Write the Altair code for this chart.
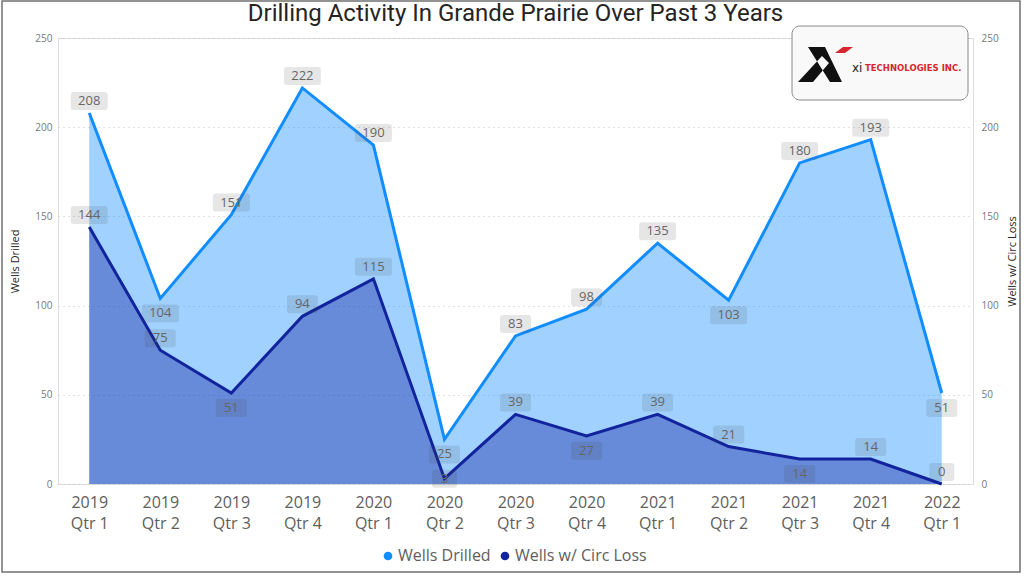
import altair as alt
import pandas as pd

# ---------------- data ----------------
quarters = ["2019 Qtr 1", "2019 Qtr 2", "2019 Qtr 3", "2019 Qtr 4",
            "2020 Qtr 1", "2020 Qtr 2", "2020 Qtr 3", "2020 Qtr 4",
            "2021 Qtr 1", "2021 Qtr 2", "2021 Qtr 3", "2021 Qtr 4",
            "2022 Qtr 1"]
wells_drilled = [208, 104, 151, 222, 190, 25, 83, 98, 135, 103, 180, 193, 51]
wells_circ_loss = [144, 75, 51, 94, 115, 3, 39, 27, 39, 21, 14, 14, 0]
y_ticks = [0, 50, 100, 150, 200, 250]
series_names = ["Wells Drilled", "Wells w/ Circ Loss"]

# data-label placement (as in the reference)
drilled_label_place = ["above", "below", "above", "above", "above", "below", "above",
                       "above", "above", "below", "above", "above", "below"]
circ_label_place = ["above", "above", "below", "above", "above", "center", "above",
                    "below", "above", "above", "below", "above", "above"]

# ---------------- styles ----------------
COLORS = ["#118DFF", "#12239E"]
FONT = "Open Sans"

rows = []
for i, q in enumerate(quarters):
    rows.append(dict(quarter=q, series=series_names[0], value=wells_drilled[i], place=drilled_label_place[i]))
    rows.append(dict(quarter=q, series=series_names[1], value=wells_circ_loss[i], place=circ_label_place[i]))
df = pd.DataFrame(rows)


def box_path(hw, hh=9, r=3):
    return (f"M{-hw + r},{-hh}H{hw - r}Q{hw},{-hh} {hw},{-hh + r}V{hh - r}"
            f"Q{hw},{hh} {hw - r},{hh}H{-hw + r}Q{-hw},{hh} {-hw},{hh - r}"
            f"V{-hh + r}Q{-hw},{-hh} {-hw + r},{-hh}Z")


box_expr = ("datum.value >= 100 ? '%s' : (datum.value >= 10 ? '%s' : '%s')"
            % (box_path(18.5), box_path(15.5), box_path(12.5)))

x_enc = alt.X(
    "quarter:O", sort=quarters,
    scale=alt.Scale(type="point", padding=0.44),
    axis=alt.Axis(title=None, labelAngle=0, ticks=False, domain=False, grid=False,
                  labelExpr="[slice(datum.label, 0, 4), slice(datum.label, 5)]",
                  labelFontSize=16, labelColor="#605E5C", labelFont=FONT,
                  labelPadding=10, labelLineHeight=21),
)

y_scale = alt.Scale(domain=[0, 250], nice=False)
left_axis = alt.Axis(title="Wells Drilled", values=y_ticks, orient="left",
                     grid=True, gridDash=[1, 4], gridColor="#c4c4c4",
                     ticks=False, domain=False,
                     labelFontSize=10, labelColor="#777777", labelFont=FONT, labelPadding=6,
                     titleFontSize=11, titleColor="#252423", titleFont=FONT,
                     titleFontWeight="normal", titlePadding=14)
right_axis = alt.Axis(title="Wells w/ Circ Loss", values=y_ticks, orient="right",
                      grid=False, ticks=False, domain=False,
                      labelFontSize=10, labelColor="#777777", labelFont=FONT, labelPadding=8,
                      titleFontSize=11, titleColor="#252423", titleFont=FONT,
                      titleFontWeight="normal", titleAngle=270, titlePadding=19)

color_enc = alt.Color(
    "series:N",
    scale=alt.Scale(domain=series_names, range=COLORS),
    legend=alt.Legend(title=None, orient="none", direction="horizontal",
                      legendX=322, legendY=510,
                      symbolType="circle", symbolSize=75, symbolOpacity=1,
                      symbolStrokeWidth=0,
                      labelFontSize=16, labelColor="#605E5C", labelFont=FONT,
                      columnPadding=6, labelOffset=2),
)

# ---------------- group A: Wells Drilled (left axis) ----------------
base_a = alt.Chart(df).transform_filter(alt.datum.series == series_names[0])
y_a = alt.Y("value:Q", scale=y_scale, axis=left_axis)
area_a = base_a.mark_area(fillOpacity=0.4).encode(x=x_enc, y=y_a, color=color_enc)
line_a = base_a.mark_line(strokeWidth=3).encode(x=x_enc, y=y_a, color=color_enc)
group_a = alt.layer(area_a, line_a)

# ---------------- group B: Circ Loss (right axis) + labels ----------------
base_b = alt.Chart(df).transform_filter(alt.datum.series == series_names[1])
y_b = alt.Y("value:Q", scale=y_scale, axis=right_axis)
area_b = base_b.mark_area(fillOpacity=0.4).encode(x=x_enc, y=y_b, color=color_enc)
line_b = base_b.mark_line(strokeWidth=3).encode(x=x_enc, y=y_b, color=color_enc)

label_layers = []
for place, off in [("above", -12), ("below", 15), ("center", 0)]:
    lb = alt.Chart(df).transform_filter(alt.datum.place == place)
    boxes = lb.transform_calculate(box=box_expr).mark_point(
        filled=True, size=4, color="#3a3a3a", opacity=0.13, strokeWidth=0, yOffset=off
    ).encode(x=x_enc, y=y_b, shape=alt.Shape("box:N", scale=None))
    texts = lb.mark_text(fontSize=13, color="#666666", font=FONT, baseline="middle",
                         dy=off).encode(x=x_enc, y=y_b, text="value:Q")
    label_layers += [boxes, texts]

one = alt.Data(values=[{}])
border = alt.Chart(one).mark_rect(fill="transparent", stroke="#707070", strokeWidth=1.5).encode(
    x=alt.value(-56), x2=alt.value(962), y=alt.value(-37), y2=alt.value(534))
logo_box = alt.Chart(one).mark_rect(fill="#f9f9f9", stroke="#8a8a8a", strokeWidth=1,
                                    cornerRadius=8).encode(
    x=alt.value(734), x2=alt.value(910), y=alt.value(-12), y2=alt.value(62))
logo_black = alt.Chart(one).mark_point(
    filled=True, size=4, color="#111111", opacity=1, strokeWidth=0,
    shape="M-17,-17H0L17,18H5Z M-27,18H-12L4,-1L-3,-8Z").encode(
    x=alt.value(767), y=alt.value(26))
logo_red = alt.Chart(one).mark_point(
    filled=True, size=4, color="#D7262D", opacity=1, strokeWidth=0,
    shape="M10,-11L18,-17H28L20,-11Z").encode(x=alt.value(767), y=alt.value(26))
logo_xi = alt.Chart(one).mark_text(text="xi", fontSize=12, font="DejaVu Sans", color="#222222",
                                   align="left", baseline="middle").encode(
    x=alt.value(794), y=alt.value(30))
logo_tech = alt.Chart(one).mark_text(text="TECHNOLOGIES INC.", fontSize=8.5, fontWeight="bold",
                                     font="DejaVu Sans", color="#D7262D",
                                     align="left", baseline="middle").encode(
    x=alt.value(807), y=alt.value(30))

group_b = alt.layer(area_b, line_b, *label_layers,
                    logo_box, logo_black, logo_red, logo_xi, logo_tech, border)

chart = alt.layer(group_a, group_b).resolve_scale(y="independent").properties(
    width=915, height=446,
    autosize=alt.AutoSizeParams(type="none"),
    padding={"left": 58, "top": 38, "right": 51, "bottom": 92},
    title=alt.TitleParams("Drilling Activity In Grande Prairie Over Past 3 Years",
                          fontSize=24, font="Roboto", fontWeight="normal", color="#252423",
                          anchor="middle", offset=-50, baseline="bottom"),
).configure_view(stroke=None).configure(background="white")

chart.save("out.html", embed_options={"renderer": "svg", "actions": False})
